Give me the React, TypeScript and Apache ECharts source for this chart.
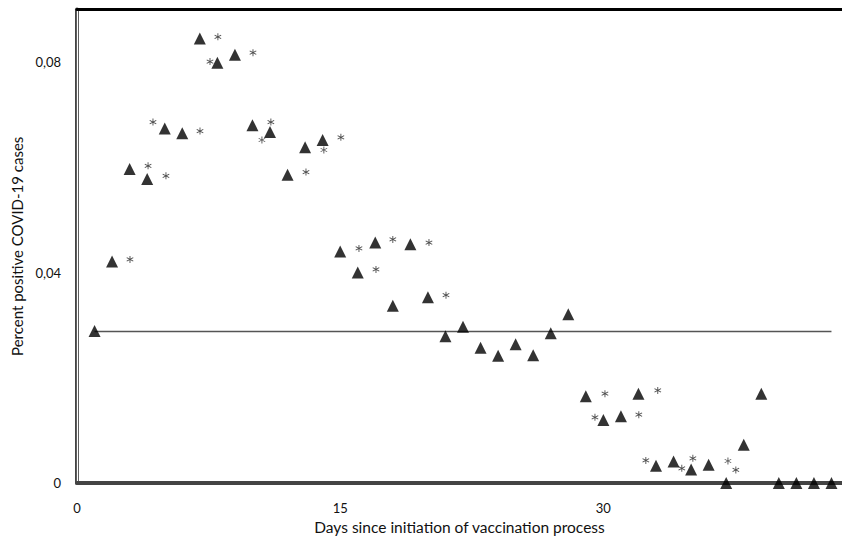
import React, { useEffect, useRef } from "react";
import * as echarts from "echarts";

const days = [
  1, 2, 3, 4, 5, 6, 7, 8, 9, 10, 11, 12, 13, 14, 15, 16, 17, 18, 19, 20, 21,
  22, 23, 24, 25, 26, 27, 28, 29, 30, 31, 32, 33, 34, 35, 36, 37, 38, 39, 40,
  41, 42, 43,
];
const percentPositive = [
  0.0289, 0.0421, 0.0597, 0.0578, 0.0674, 0.0665, 0.0845, 0.0799, 0.0814,
  0.068, 0.0667, 0.0586, 0.0638, 0.0652, 0.044, 0.04, 0.0457, 0.0337, 0.0454,
  0.0353, 0.0279, 0.0297, 0.0257, 0.0242, 0.0264, 0.0243, 0.0285, 0.0321,
  0.0165, 0.012, 0.0127, 0.017, 0.0033, 0.0041, 0.0026, 0.0035, 0, 0.0073,
  0.017, 0, 0, 0, 0,
];
// asterisk (significance) markers
const starX = [
  8.03, 10.03, 7.58, 4.33, 7.01, 11.05, 10.54, 4.05, 5.07, 15.04, 14.07, 13.05,
  3.02, 16.07, 18.0, 20.06, 17.04, 21.03, 30.09, 33.1, 29.52, 32.02, 32.42,
  34.47, 35.1, 37.1, 37.55,
];
const starY = [
  0.0848, 0.0818, 0.0801, 0.0686, 0.0669, 0.0686, 0.0652, 0.0603, 0.0584,
  0.0657, 0.0633, 0.0591, 0.0425, 0.0446, 0.0463, 0.0457, 0.0406, 0.0357,
  0.017, 0.0176, 0.0125, 0.013, 0.0043, 0.0028, 0.0047, 0.0042, 0.0025,
];
const baselineDays = [1, 43];
const baselineValue = 0.0288;
const xTicks = [0, 15, 30];
const yTicks = [0, 0.04, 0.08];

const ASTERISK =
  "path://M4.4 0L5.6 0L5.6 10L4.4 10Z M0.97 1.98L9.63 6.98L9.03 8.02L0.37 3.02Z M0.37 6.98L9.03 1.98L9.63 3.02L0.97 8.02Z";

export default function App() {
  const ref = useRef<HTMLDivElement>(null);
  useEffect(() => {
    if (!ref.current) return;
    const chart = echarts.init(ref.current, null, { renderer: "svg" });
    const font = "Lato, 'Open Sans', sans-serif";
    const gridBox = { left: 77, top: 9.5, right: 0, bottom: 54, containLabel: false };
    const hidden = {
      axisTick: { show: false },
      axisLabel: { show: false },
      splitLine: { show: false },
    };
    chart.setOption({
      animation: false,
      backgroundColor: "#fff",
      grid: [gridBox, { ...gridBox }],
      xAxis: [
        {
          type: "value",
          gridIndex: 0,
          min: 0,
          max: 43.6,
          interval: 15,
          position: "bottom",
          name: "Days since initiation of vaccination process",
          nameLocation: "middle",
          nameGap: 34,
          nameTextStyle: { fontFamily: font, fontSize: 15.5, color: "#111" },
          axisLine: { show: true, lineStyle: { color: "#444", width: 4 } },
          axisTick: { show: false },
          splitLine: { show: false },
          axisLabel: {
            fontFamily: font,
            fontSize: 13,
            color: "#111",
            margin: 18,
            showMaxLabel: false,
            formatter: (v: number) => (xTicks.includes(v) ? String(v) : ""),
          },
        },
        {
          type: "value",
          gridIndex: 0,
          min: 0,
          max: 43.6,
          position: "top",
          axisLine: { show: true, lineStyle: { color: "#000", width: 3 } },
          ...hidden,
        },
        {
          type: "value",
          gridIndex: 1,
          min: 0,
          max: 43.6,
          position: "bottom",
          axisLine: { show: true, lineStyle: { color: "#fff", width: 1.3 } },
          ...hidden,
        },
      ],
      yAxis: [
        {
          type: "value",
          gridIndex: 0,
          min: 0,
          max: 0.09,
          interval: 0.04,
          position: "left",
          name: "Percent positive COVID-19 cases",
          nameLocation: "middle",
          nameGap: 52,
          nameTextStyle: { fontFamily: font, fontSize: 15, color: "#111" },
          axisLine: { show: true, lineStyle: { color: "#444", width: 4 } },
          axisTick: { show: false },
          splitLine: { show: false },
          axisLabel: {
            fontFamily: font,
            fontSize: 13,
            color: "#111",
            margin: 16,
            showMaxLabel: false,
            formatter: (v: number) => {
              const t = yTicks.find((y) => Math.abs(y - v) < 1e-9);
              if (t === undefined) return "";
              return t === 0 ? "0" : t.toFixed(2).replace(".", ",");
            },
          },
        },
        {
          type: "value",
          gridIndex: 1,
          min: 0,
          max: 0.09,
          position: "left",
          axisLine: { show: true, lineStyle: { color: "#fff", width: 1.3 } },
          ...hidden,
        },
      ],
      series: [
        {
          type: "line",
          xAxisIndex: 0,
          yAxisIndex: 0,
          data: baselineDays.map((d) => [d, baselineValue]),
          symbol: "none",
          lineStyle: { color: "#555", width: 1.5 },
          z: 2,
          silent: true,
        },
        {
          type: "scatter",
          xAxisIndex: 0,
          yAxisIndex: 0,
          data: starX.map((x, i) => [x, starY[i]]),
          symbol: ASTERISK,
          symbolSize: 7,
          itemStyle: { color: "#222" },
          z: 4,
        },
        {
          type: "scatter",
          xAxisIndex: 0,
          yAxisIndex: 0,
          data: days.map((d, i) => [d, percentPositive[i]]),
          symbol: "triangle",
          symbolSize: 12,
          itemStyle: { color: "#000" },
          z: 5,
        },
      ],
    });
    return () => chart.dispose();
  }, []);
  return (
    <div
      ref={ref}
      style={{
        position: "fixed",
        left: 0,
        top: 0,
        width: "842px",
        height: "540px",
        background: "#fff",
      }}
    />
  );
}
